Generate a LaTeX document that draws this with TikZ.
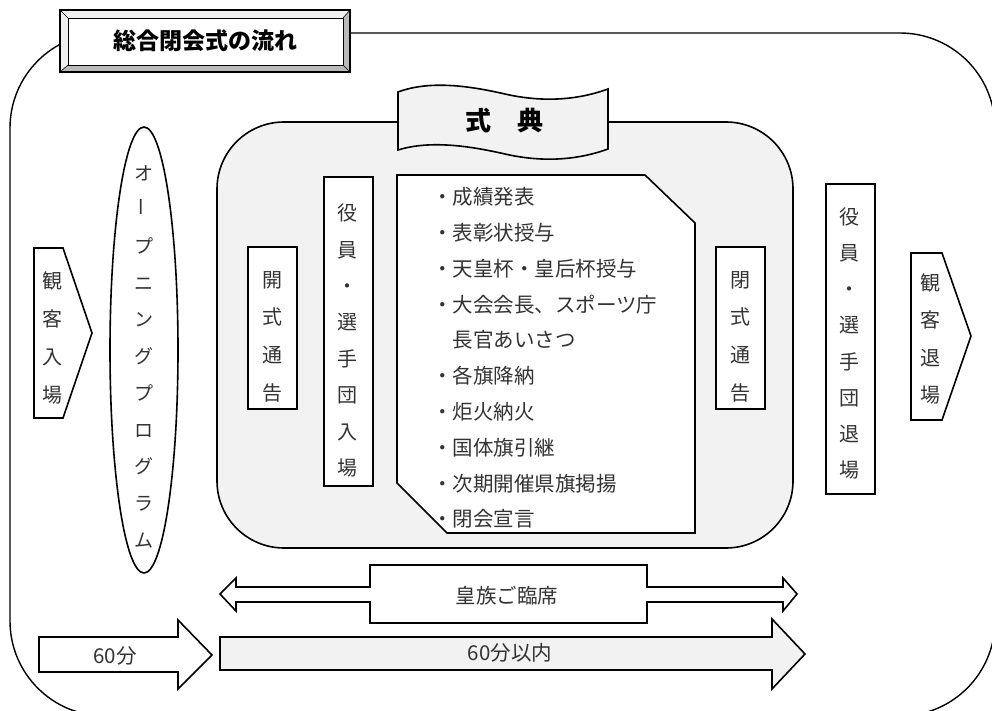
\documentclass[tikz,border=0pt]{standalone}
\usepackage{fontspec}
\setmainfont{Noto Sans CJK JP}
\usetikzlibrary{positioning}
\definecolor{panelgray}{HTML}{F2F2F2}
\definecolor{inkgray}{HTML}{333333}

\begin{document}
\begin{tikzpicture}[x=1pt,y=-1pt,
		boxline/.style={draw=black, line width=1.6pt},
		vbox/.style={boxline, fill=white, minimum width=49pt, inner sep=0pt, anchor=north west},
		vtext/.style={align=center, inner sep=0pt, text=inkgray, font=\fontsize{20}{36.8}\selectfont},
		item/.style={anchor=west, inner sep=0pt, text=inkgray, font=\fontsize{20.5}{24}\selectfont}]
	\useasboundingbox (0,0) rectangle (992,711);

	% whole frame
	\draw[line width=1.4pt, rounded corners=95pt] (10,33) rectangle (995,716);

	% title plate
	\fill[gray!12] (60,10) -- (350,10) -- (343,18) -- (68,18) -- cycle;
	\fill[gray!12] (60,10) -- (68,18) -- (68,65) -- (60,72) -- cycle;
	\fill[gray!55] (350,10) -- (350,72) -- (343,65) -- (343,18) -- cycle;
	\fill[gray!55] (60,72) -- (350,72) -- (343,65) -- (68,65) -- cycle;
	\draw[line width=0.6pt, fill=white] (68,18) rectangle (343,65);
	\draw[line width=0.6pt] (60,10) -- (68,18) (350,10) -- (343,18) (60,72) -- (68,65) (350,72) -- (343,65);
	\draw[line width=1.6pt] (60,10) rectangle (350,72);
	\node[font=\bfseries\fontsize{23}{28}\selectfont] (title) at (205,41) {総合閉会式の流れ};

	% ceremony panel and its banner
	\draw[boxline, fill=panelgray, rounded corners=67pt] (217,122) rectangle (793,548);
	\draw[boxline, fill=panelgray] (398,92) .. controls (430,80) and (470,86) .. (505,94)
		.. controls (540,102) and (575,101) .. (608,89) -- (608,149)
		.. controls (575,161) and (540,162) .. (505,154)
		.. controls (470,146) and (430,140) .. (398,150) -- cycle;
	\node[font=\bfseries\fontsize{26}{30}\selectfont] (shikiten) at (504,121) {式　典};

	% programme
	\draw[boxline, fill=white] (397,175) -- (645,175) -- (695,223) -- (695,533) -- (447,533) -- (397,483) -- cycle;
	\foreach \t [count=\i] in {・成績発表, ・表彰状授与, ・天皇杯・皇后杯授与, ・大会会長、スポーツ庁, 　長官あいさつ,
			・各旗降納, ・炬火納火, ・国体旗引継, ・次期開催県旗掲揚, ・閉会宣言}
		\node[item] (item\i) at (432,{197+35.8*(\i-1)}) {\t};

	% vertical boxes
	\node[vbox, minimum height=162pt] (openbox) at (247,246) {};
	\node[vtext, font=\fontsize{20}{37.7}\selectfont] (opentext) at (272,336.5) {開\\式\\通\\告};
	\node[vbox, minimum height=309pt] (entrybox) at (323,176) {};
	\node[vtext, font=\fontsize{20}{36.4}\selectfont] (entrytext) at (347.5,340.5) {役\\員\\・\\選\\手\\団\\入\\場};
	\node[vbox, minimum height=162pt] (closebox) at (715,246) {};
	\node[vtext, font=\fontsize{20}{37.7}\selectfont] (closetext) at (740.5,336.5) {閉\\式\\通\\告};
	\node[vbox, minimum height=310pt] (exitbox) at (825,183) {};
	\node[vtext, font=\fontsize{20}{36.2}\selectfont] (exittext) at (849,343.5) {役\\員\\・\\選\\手\\団\\退\\場};

	% spectators in and out
	\draw[boxline, fill=white] (34,248) -- (63,248) -- (92,333) -- (63,418) -- (34,418) -- cycle;
	\node[vtext, font=\fontsize{20}{38}\selectfont] (arrive) at (52.5,337.5) {観\\客\\入\\場};
	\draw[boxline, fill=white] (911,253) -- (942,253) -- (971,336) -- (942,420) -- (911,420) -- cycle;
	\node[vtext, font=\fontsize{20}{37.3}\selectfont] (leave) at (930,339) {観\\客\\退\\場};

	% opening programme
	\draw[boxline, fill=white] (144,350) ellipse [x radius=34pt, y radius=223pt];
	\node[vtext, font=\fontsize{19}{36.7}\selectfont] (opening) at (144,356.5)
		{オ\\\rotatebox{90}{ー}\\プ\\ニ\\ン\\グ\\プ\\ロ\\グ\\ラ\\ム};

	% royal attendance
	\draw[boxline, fill=white] (370,565) -- (647,565) -- (647,587) -- (783,587) -- (783,578) -- (797,594)
		-- (783,611) -- (783,602) -- (647,602) -- (647,623) -- (370,623) -- (370,602) -- (236,602)
		-- (236,611) -- (220,594) -- (236,578) -- (236,587) -- (370,587) -- cycle;
	\node[item, anchor=center] (royal) at (507,596) {皇族ご臨席};

	% time bars
	\draw[boxline, fill=white] (39,637) -- (178,637) -- (178,620) -- (212,655) -- (178,689) -- (178,672) -- (39,672) -- cycle;
	\node[item, anchor=center] (before) at (115,656) {60分};
	\draw[boxline, fill=panelgray] (220,637) -- (772,637) -- (772,619) -- (805,654) -- (772,689) -- (772,670) -- (220,670) -- cycle;
	\node[item, anchor=center] (within) at (510,653) {60分以内};
\end{tikzpicture}
\end{document}
